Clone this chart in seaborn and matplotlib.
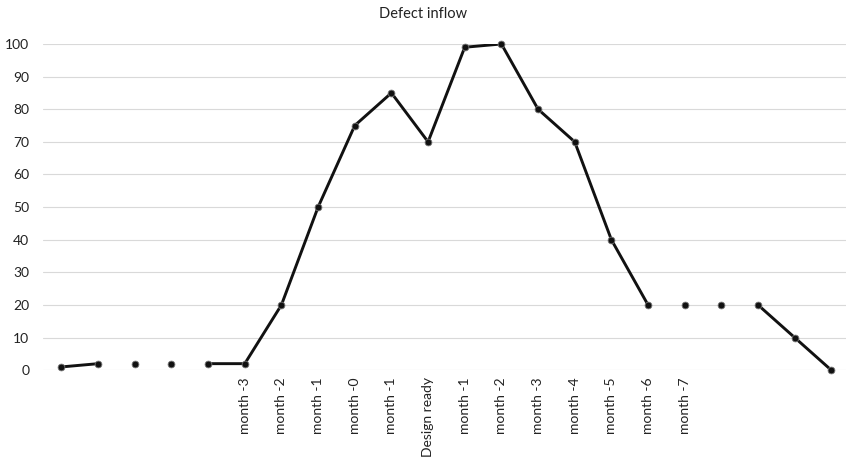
import matplotlib
matplotlib.use("Agg")
import matplotlib.pyplot as plt
import seaborn as sns
import pandas as pd

labels = ["", "", "", "", "", "month -3", "month -2", "month -1", "month -0", "month -1",
          "Design ready", "month -1", "month -2", "month -3", "month -4", "month -5",
          "month -6", "month -7", "", "", "", ""]
values = [1, 2, 2, 2, 2, 2, 20, 50, 75, 85, 70, 99, 100, 80, 70, 40, 20, 20, 20, 20, 10, 0]
# connected runs of points (first index, last index)
runs = [(0, 1), (4, 16), (19, 21)]

sns.set_style("white")
plt.rcParams["font.family"] = ["Lato", "DejaVu Sans"]

pos = list(range(len(values)))
df = pd.DataFrame({"x": pos, "y": values})

rows = []
for k, (a, b) in enumerate(runs):
    for i in range(a, b + 1):
        rows.append({"x": i, "y": values[i], "run": k})
lines = pd.DataFrame(rows)

fig = plt.figure(figsize=(8.46, 4.61), dpi=100)
ax = fig.add_axes([0.051, 0.197, 0.949, 0.7076])

sns.lineplot(data=lines, x="x", y="y", units="run", estimator=None,
             color="#111111", linewidth=2.1, ax=ax, zorder=3)
sns.scatterplot(data=df, x="x", y="y", color="#111111", edgecolor="#777777",
                linewidth=0.6, s=24, ax=ax, zorder=4, clip_on=False)

ax.set_xlim(-0.5, 21.4)
ax.set_ylim(0, 100)
ax.set_yticks(range(0, 101, 10))
ax.set_xticks(pos)
ax.set_xticklabels(labels, rotation=90, fontsize=10, color="#222222")
ax.tick_params(axis="y", labelsize=10, colors="#222222", length=0, pad=10)
ax.tick_params(axis="x", length=0, pad=5)
ax.yaxis.grid(True, color="#d9d9d9", linewidth=0.8)
ax.set_axisbelow(True)
for s in ax.spines.values():
    s.set_visible(False)
ax.set_xlabel("")
ax.set_ylabel("")
fig.suptitle("Defect inflow", y=0.985, fontsize=10.5, color="#222222")

fig.savefig("out.png", dpi=100)
